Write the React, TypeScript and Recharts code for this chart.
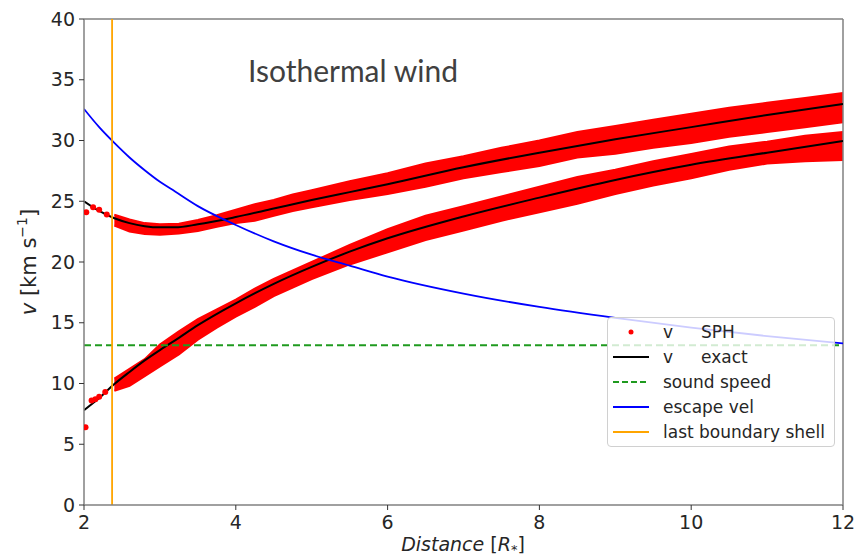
import { ComposedChart, Line, Area, Scatter, XAxis, YAxis, ReferenceLine } from "recharts";

// exact solution + escape velocity
const curveX = [2, 2.2, 2.4, 2.6, 2.8, 3.0, 3.2, 3.5, 4, 4.5, 5, 5.5, 6, 7, 8, 9, 10, 11, 12];
const vExactUpper = [25.0, 24.2, 23.6, 23.2, 22.95, 22.85, 22.85, 23.1, 23.7, 24.4, 25.1, 25.75, 26.4, 27.8, 29.0, 30.1, 31.1, 32.1, 33.0];
const vExactLower = [7.8, 8.8, 9.95, 10.95, 11.9, 12.75, 13.55, 14.8, 16.6, 18.2, 19.6, 20.85, 21.95, 23.75, 25.3, 26.75, 28.0, 29.0, 29.95];
const vEscape = [32.6, 31.1, 29.8, 28.6, 27.55, 26.6, 25.8, 24.6, 23.05, 21.7, 20.6, 19.7, 18.8, 17.4, 16.3, 15.4, 14.6, 13.9, 13.3];

// spread of the SPH particles (top / bottom of the red bands)
const bandX = [2.4, 2.6, 2.8, 3.0, 3.25, 3.5, 3.75, 4, 4.25, 4.5, 4.75, 5, 5.5, 6, 6.5, 7, 7.5, 8, 8.5, 9, 9.5, 10, 10.5, 11, 11.5, 12];
const sphUpperHi = [23.9, 23.5, 23.2, 23.1, 23.15, 23.45, 23.85, 24.3, 24.75, 25.1, 25.55, 25.9, 26.65, 27.3, 28.1, 28.7, 29.4, 30.0, 30.7, 31.2, 31.7, 32.2, 32.7, 33.1, 33.5, 33.9];
const sphUpperLo = [23.0, 22.5, 22.3, 22.25, 22.35, 22.55, 22.9, 23.2, 23.4, 23.8, 24.2, 24.5, 25.1, 25.6, 26.2, 26.9, 27.4, 27.9, 28.6, 28.9, 29.4, 29.8, 30.3, 30.7, 31.1, 31.5];
const sphLowerHi = [10.4, 11.2, 12.0, 13.2, 14.3, 15.3, 16.1, 16.9, 17.8, 18.6, 19.3, 20.0, 21.4, 22.7, 23.8, 24.6, 25.4, 26.2, 27.0, 27.6, 28.3, 28.9, 29.5, 29.9, 30.4, 30.7];
const sphLowerLo = [9.4, 9.8, 10.6, 11.4, 12.4, 13.6, 14.6, 15.5, 16.3, 17.2, 17.9, 18.6, 19.8, 20.8, 21.8, 22.6, 23.4, 24.1, 24.8, 25.6, 26.3, 26.9, 27.6, 28.1, 28.3, 28.4];

// isolated SPH particles near the inner boundary
const sphDotX = [2.02, 2.03, 2.1, 2.15, 2.2, 2.28, 2.12, 2.2, 2.3];
const sphDotV = [6.4, 24.1, 8.6, 8.7, 8.9, 9.3, 24.5, 24.3, 23.9];

const soundSpeed = 13.15;
const lastShell = 2.37;
const xTicks = [2, 4, 6, 8, 10, 12];
const yTicks = [0, 5, 10, 15, 20, 25, 30, 35, 40];

const curveRows = curveX.map((x, i) => ({ x, upper: vExactUpper[i], lower: vExactLower[i], esc: vEscape[i] }));
const bandRows = bandX.map((x, i) => ({
  x,
  up: [sphUpperLo[i], sphUpperHi[i]],
  low: [sphLowerLo[i], sphLowerHi[i]],
}));
const dotRows = sphDotX.map((x, i) => ({ x, v: sphDotV[i] }));

const tickStyle = { fill: "#262626", fontSize: 19, fontFamily: "DejaVu Sans" };
const spine = "#808080";

const legendItems = [
  { kind: "dot", color: "#ff0000", a: "v", b: "SPH" },
  { kind: "line", color: "#000000", a: "v", b: "exact" },
  { kind: "dash", color: "#1f9a1f", a: "sound speed" },
  { kind: "line", color: "#0000ff", a: "escape vel" },
  { kind: "line", color: "#ffa500", a: "last boundary shell" },
];

function LegendBox() {
  return (
    <div
      style={{
        position: "absolute",
        left: 607,
        top: 317,
        width: 228,
        height: 130,
        boxSizing: "border-box",
        background: "rgba(255,255,255,0.8)",
        border: "1px solid #d0d0d0",
        borderRadius: 4,
        paddingTop: 2,
        fontFamily: "DejaVu Sans",
        fontSize: 17,
        color: "#262626",
        whiteSpace: "nowrap",
      }}
    >
      {legendItems.map((it) => (
        <div key={it.a + (it.b || "")} style={{ height: 24.8, display: "flex", alignItems: "center" }}>
          <svg width={36} height={10} style={{ marginLeft: 5, marginRight: 14, flexShrink: 0 }}>
            {it.kind === "dot" && <circle cx={18} cy={5} r={2.5} fill={it.color} />}
            {it.kind === "line" && <line x1={0} x2={36} y1={5} y2={5} stroke={it.color} strokeWidth={2} />}
            {it.kind === "dash" && <line x1={0} x2={36} y1={5} y2={5} stroke={it.color} strokeWidth={2} strokeDasharray="6 3" />}
          </svg>
          {it.b ? (
            <span>
              <span style={{ display: "inline-block", width: 38 }}>{it.a}</span>
              {it.b}
            </span>
          ) : (
            <span>{it.a}</span>
          )}
        </div>
      ))}
    </div>
  );
}

export default function App() {
  return (
    <div style={{ position: "absolute", left: 0, top: 0, width: 856, height: 560, background: "#fff" }}>
      <ComposedChart width={856} height={560} margin={{ top: 19, right: 13, bottom: 0, left: 0 }}>
        <XAxis
          dataKey="x"
          type="number"
          domain={[2, 12]}
          ticks={xTicks}
          allowDataOverflow
          height={55}
          tick={tickStyle}
          tickSize={5}
          tickMargin={6}
          axisLine={{ stroke: spine, strokeWidth: 1.5 }}
          tickLine={{ stroke: "#333" }}
        />
        <YAxis
          type="number"
          domain={[0, 40]}
          ticks={yTicks}
          allowDataOverflow
          width={84}
          tick={tickStyle}
          tickSize={5}
          tickMargin={4}
          axisLine={{ stroke: spine, strokeWidth: 1.5 }}
          tickLine={{ stroke: "#333" }}
        />
        <ReferenceLine y={40} stroke={spine} strokeWidth={1.5} />
        <ReferenceLine x={12} stroke={spine} strokeWidth={1.5} />

        <Area data={bandRows} dataKey="up" type="linear" stroke="#ff0000" strokeWidth={2} fill="#ff0000" fillOpacity={1} isAnimationActive={false} />
        <Area data={bandRows} dataKey="low" type="linear" stroke="#ff0000" strokeWidth={2} fill="#ff0000" fillOpacity={1} isAnimationActive={false} />
        <Scatter data={dotRows} dataKey="v" fill="#ff0000" shape={(p: any) => <circle cx={p.cx} cy={p.cy} r={3} fill="#ff0000" />} isAnimationActive={false} />

        <Line data={curveRows} dataKey="upper" type="monotone" stroke="#000" strokeWidth={2} dot={false} isAnimationActive={false} />
        <Line data={curveRows} dataKey="lower" type="monotone" stroke="#000" strokeWidth={2} dot={false} isAnimationActive={false} />
        <ReferenceLine y={soundSpeed} stroke="#1f9a1f" strokeWidth={2} strokeDasharray="7 4" />
        <Line data={curveRows} dataKey="esc" type="monotone" stroke="#0000ff" strokeWidth={1.8} dot={false} isAnimationActive={false} />
        <ReferenceLine x={lastShell} stroke="#ffa500" strokeWidth={1.8} />
      </ComposedChart>

      <svg width={856} height={560} style={{ position: "absolute", left: 0, top: 0, pointerEvents: "none" }}>
        <text x={248} y={82} fontFamily="Lato" fontSize={30} fill="#404040">
          Isothermal wind
        </text>
        <text
          transform="translate(36,262) rotate(-90)"
          textAnchor="middle"
          fontFamily="DejaVu Sans"
          fontSize={21}
          fill="#262626"
        >
          <tspan fontStyle="italic">v</tspan>
          <tspan> [km s</tspan>
          <tspan fontSize={14} dy={-9}>−1</tspan>
          <tspan dy={9}>]</tspan>
        </text>
        <text x={463} y={551} textAnchor="middle" fontFamily="DejaVu Sans" fontSize={19} fill="#262626">
          <tspan fontStyle="italic">Distance</tspan>
          <tspan> [</tspan>
          <tspan fontStyle="italic">R</tspan>
          <tspan fontSize={13} dy={3}>*</tspan>
          <tspan dy={-3}>]</tspan>
        </text>
      </svg>
      <LegendBox />
    </div>
  );
}
